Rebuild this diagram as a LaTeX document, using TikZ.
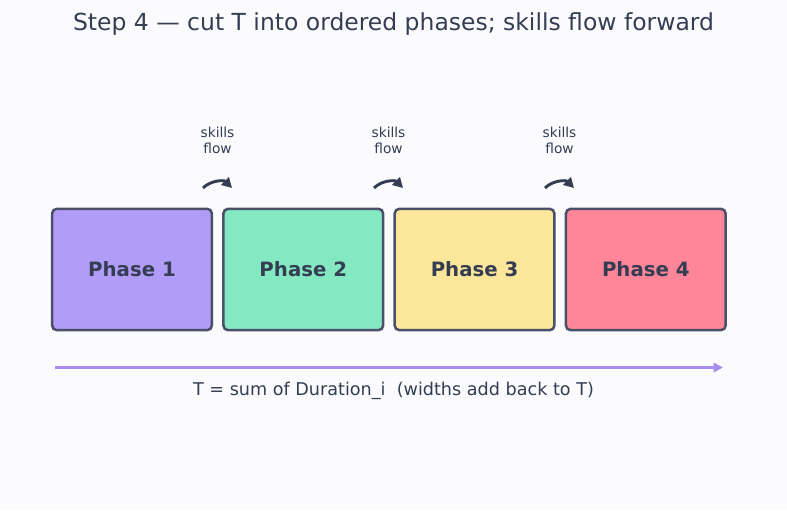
\documentclass[tikz,border=0pt]{standalone}
\usepackage{fontspec}
\setmainfont{DejaVu Sans}
\usepackage{xcolor}
\usetikzlibrary{
arrows.meta,
positioning,
calc
}

\definecolor{bgcol}{HTML}{FBFBFE}
\definecolor{inkcol}{HTML}{343D52}
\definecolor{edgecol}{HTML}{4B5068}
\definecolor{phaseA}{HTML}{B19CF7}
\definecolor{phaseB}{HTML}{84E9C2}
\definecolor{phaseC}{HTML}{FCE699}
\definecolor{phaseD}{HTML}{FF8599}
\definecolor{axiscol}{HTML}{A98CF0}

\begin{document}
\begin{tikzpicture}[
x=0.75pt, y=-0.75pt,
node distance=6.75pt,
phase/.style={
draw=edgecol,
line width=1.9pt,
rounded corners=3.5pt,
minimum width=119.8pt,
minimum height=91pt,
inner sep=0pt,
text=inkcol,
font=\fontsize{14.8}{17}\selectfont\bfseries
},
flowlbl/.style={
text=inkcol,
align=center,
inner sep=0pt,
font=\fontsize{10.3}{12}\selectfont
},
flowarrow/.style={-{Triangle[length=7.5pt,width=8pt]},line width=2.2pt,draw=inkcol},
axis/.style={-{Triangle[length=7pt,width=7pt]},line width=1.9pt,draw=axiscol}
]

\fill[bgcol] (0,0) rectangle (787,510);
\useasboundingbox (0,0) rectangle (787,510);

\node[text=inkcol,font=\fontsize{17.6}{21}\selectfont] (title) at (393.5,24) {Step 4 — cut T into ordered phases; skills flow forward};

\node[phase,fill=phaseA] (p1) at (132,269.5) {Phase 1};
\node[phase,fill=phaseB,right=of p1] (p2) {Phase 2};
\node[phase,fill=phaseC,right=of p2] (p3) {Phase 3};
\node[phase,fill=phaseD,right=of p3] (p4) {Phase 4};

\node[flowlbl] (lbl12) at (217.5,140) {skills\\flow};
\node[flowlbl] (lbl23) at (388.5,140) {skills\\flow};
\node[flowlbl] (lbl34) at (559.5,140) {skills\\flow};

\coordinate (f12s) at (203,188);
\coordinate (f12e) at (232,188);
\coordinate (f23s) at (374,188);
\coordinate (f23e) at (403,188);
\coordinate (f34s) at (545,188);
\coordinate (f34e) at (574,188);

\draw[flowarrow] (f12s) to[bend left=45] (f12e);
\draw[flowarrow] (f23s) to[bend left=45] (f23e);
\draw[flowarrow] (f34s) to[bend left=45] (f34e);

\coordinate (tstart) at (55,367.5);
\coordinate (tend) at (723,367.5);
\draw[axis] (tstart) -- (tend);

\node[text=inkcol,font=\fontsize{13.2}{16}\selectfont] (tsum) at (393.5,391) {T = sum of Duration\_i\ \ (widths add back to T)};

\end{tikzpicture}
\end{document}
